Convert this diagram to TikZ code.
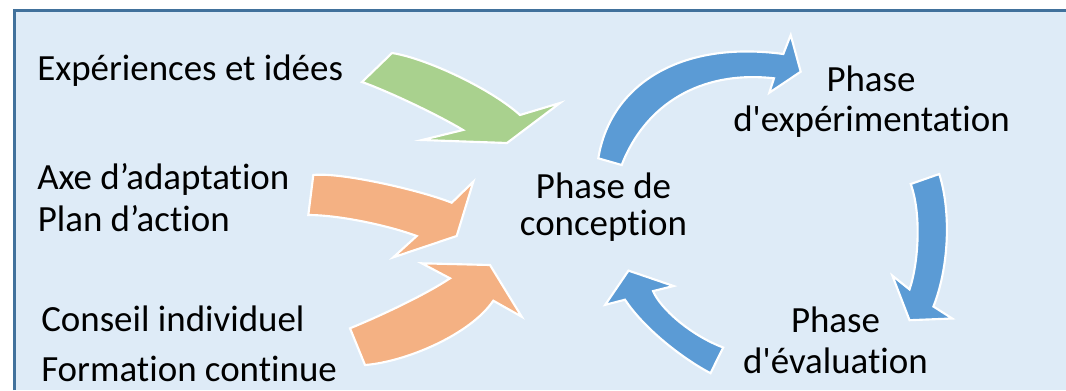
\documentclass[tikz,border=0pt]{standalone}
\usepackage{fontspec}
\setmainfont{Carlito}[Ligatures={NoCommon,TeXOff}]
\definecolor{bgblue}{RGB}{222,235,247}
\definecolor{frameblue}{RGB}{65,113,156}
\definecolor{arrowblue}{RGB}{91,155,213}
\definecolor{arrowgreen}{RGB}{169,209,142}
\definecolor{arroworange}{RGB}{244,177,131}
\begin{document}
\begin{tikzpicture}[x=0.75pt,y=-0.75pt,
  txt/.style={font=\fontsize{27.7}{33}\selectfont, inner sep=0pt, text=black},
  blockarrow/.style={draw=white, line width=1.6pt, line join=miter}]
\useasboundingbox (0,0) rectangle (1066,390);
\fill[white] (0,0) rectangle (1066,390);
% panel
\fill[bgblue] (14.3,10.5) rectangle (1065.5,390);
\draw[frameblue, line width=1.9pt] (14.3,390) -- (14.3,10.5) -- (1065.5,10.5);

% green arrow
\path[blockarrow, fill=arrowgreen]
  (392,53) .. controls (425,58) and (490,88) .. (520,115)
  -- (560,103) -- (507,143) -- (422,140) -- (463,130)
  .. controls (440,116) and (390,92) .. (362,82) -- cycle;

% orange arrow 1
\path[blockarrow, fill=arroworange]
  (313.3,175) .. controls (340,172) and (420,190) .. (451.7,202.7)
  -- (473.3,181.7) -- (456.7,236) -- (393.3,257.3) -- (416.7,236)
  .. controls (390,226) and (340,215) .. (308.3,215) -- cycle;

% orange arrow 2
\path[blockarrow, fill=arroworange]
  (350,328.3) .. controls (380,316) and (425,295) .. (450,278.3)
  -- (421.7,263.3) -- (490,265) -- (521.7,316.7) -- (493.3,300.7)
  .. controls (470,335) and (405,362) .. (365,365) -- cycle;

% blue arrow 1 (conception -> experimentation)
\path[blockarrow, fill=arrowblue]
  (598.3,158.3) .. controls (610,85) and (680,40) .. (783.3,54)
  -- (790.7,35) -- (800.7,71.7) -- (769.3,92.7) -- (774,78.3)
  .. controls (700,70) and (645,105) .. (621.7,165) -- cycle;

% blue arrow 2 (experimentation -> evaluation)
\path[blockarrow, fill=arrowblue]
  (939.3,174) .. controls (952,215) and (948,270) .. (933.4,306.5)
  -- (952.2,318.5) -- (909.5,320.2) -- (892.4,275.7) -- (909.5,289.4)
  .. controls (918,265) and (922,215) .. (910.7,184) -- cycle;

% blue arrow 3 (evaluation -> conception)
\path[blockarrow, fill=arrowblue]
  (710.5,373.2) .. controls (685,360) and (645,330) .. (625,299.7)
  -- (605.2,304.8) -- (628.5,270.6) -- (673.6,286) -- (653.1,291.1)
  .. controls (660,308) and (690,335) .. (723.2,347.5) -- cycle;

% left texts
\node[txt, anchor=base west] (exp) at (37,80) {Expériences et idées};
\node[txt, anchor=base west] (axe) at (37,189) {Axe d’adaptation};
\node[txt, anchor=base west] (plan) at (37.5,231.5) {Plan d’action};
\node[txt, anchor=base west] (cons) at (41,331.5) {Conseil individuel};
\node[txt, anchor=base west] (form) at (41,381) {Formation continue};

% phases
\node[txt, anchor=base] (conc1) at (603.5,198) {Phase de};
\node[txt, anchor=base] (conc2) at (603.5,235) {conception};
\node[txt, anchor=base] (expe1) at (871,91.5) {Phase};
\node[txt, anchor=base] (expe2) at (871.5,131.5) {d'expérimentation};
\node[txt, anchor=base] (eval1) at (835.5,332) {Phase};
\node[txt, anchor=base] (eval2) at (835.5,373) {d'évaluation};
\end{tikzpicture}
\end{document}
